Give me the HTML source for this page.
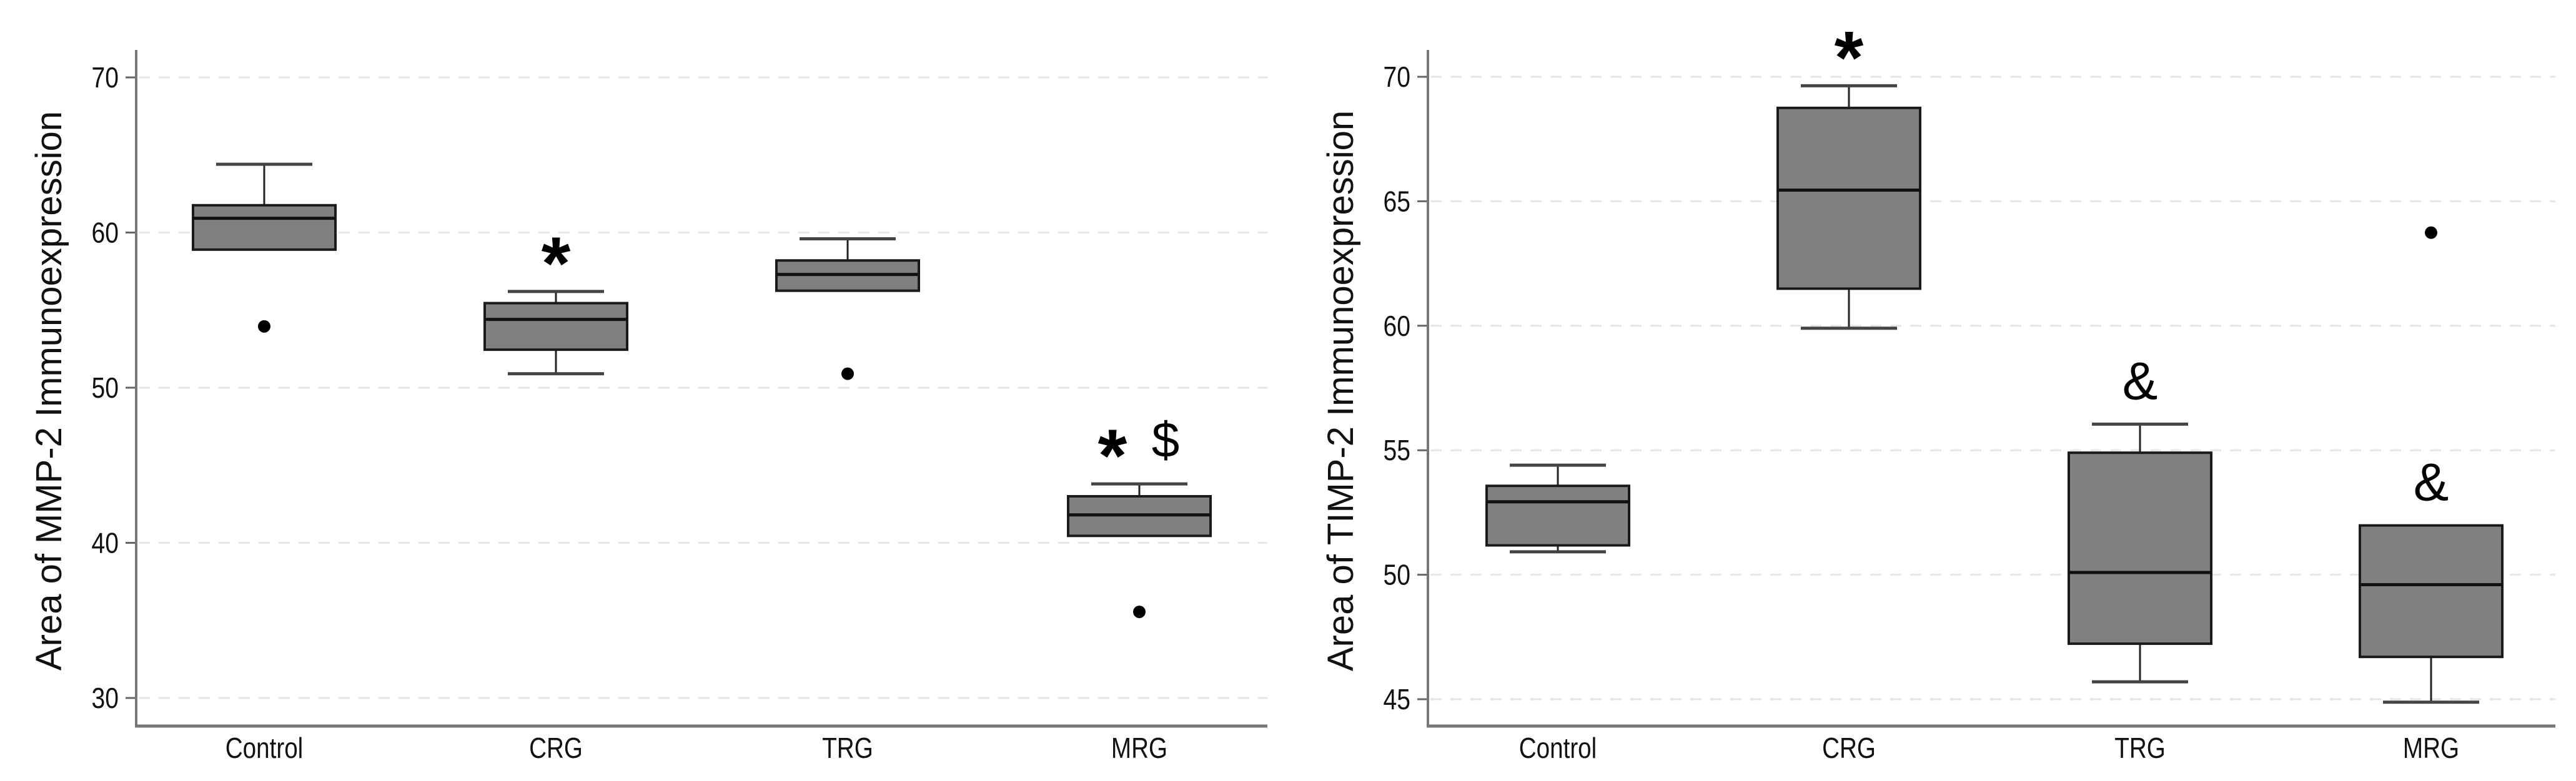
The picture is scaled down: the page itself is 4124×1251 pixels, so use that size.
<!DOCTYPE html>
<html><head><meta charset="utf-8"><style>
html,body{margin:0;padding:0;background:#fff}
svg{display:block}
text{font-family:"Liberation Sans",sans-serif}
</style></head><body>
<svg id="chart" width="4124" height="1251" viewBox="0 0 4124 1251" xmlns="http://www.w3.org/2000/svg"></svg>
<script>
const categories = ["Control","CRG","TRG","MRG"];
// Left panel: MMP-2
const mmpLow = [58.9, 50.9, 56.25, 40.45];
const mmpQ1 = [58.9, 52.45, 56.25, 40.45];
const mmpMed = [60.92, 54.4, 57.3, 41.8];
const mmpQ3 = [61.76, 55.45, 58.2, 43.0];
const mmpHigh = [64.4, 56.2, 59.6, 43.8];
const mmpOutliers = [53.95, null, 50.9, 35.55];
const mmpTicks = [30, 40, 50, 60, 70];
const mmpMarks = ["", "*", "", "* $"];
// Right panel: TIMP-2
const timpLow = [50.92, 59.9, 45.7, 44.88];
const timpQ1 = [51.18, 61.49, 47.23, 46.7];
const timpMed = [52.93, 65.45, 50.09, 49.6];
const timpQ3 = [53.57, 68.75, 54.9, 51.98];
const timpHigh = [54.4, 69.64, 56.05, 51.98];
const timpOutliers = [null, null, null, 63.74];
const timpTicks = [45, 50, 55, 60, 65, 70];
const timpMarks = ["", "*", "&", "&"];

const NS = "http://www.w3.org/2000/svg";
const svg = document.getElementById("chart");
function mk(tag, attrs, parent){
  const e = document.createElementNS(NS, tag);
  for (const k in attrs) e.setAttribute(k, attrs[k]);
  (parent||svg).appendChild(e);
  return e;
}

function panel(cfg){
  const g = mk("g", {});
  
  
  const y = v => cfg.y0 + (cfg.vTop - v) * cfg.ppu;
  const x = i => cfg.cx0 + i * cfg.step;
  cfg.ticks.forEach(t => {
    const gl = mk("line", {x1: cfg.ax+4, x2: cfg.axEnd, y1: y(t), y2: y(t), stroke: "#e6e6e6", "stroke-width": 3, "stroke-dasharray": "18,14"}, g);
    
    
    const tk = mk("line", {x1: cfg.ax-17, x2: cfg.ax, y1: y(t), y2: y(t), stroke: "#666", "stroke-width": 3}, g);
    
    
    const tl = mk("text", {x: cfg.ax-28, y: y(t)+16, "text-anchor": "end", "font-size": 46, fill: "#111", transform: `translate(${cfg.ax-28},0) scale(0.85,1) translate(${-(cfg.ax-28)},0)`}, g);
    tl.textContent = t;
    
    
  });
  const ya = mk("line", {x1: cfg.ax, x2: cfg.ax, y1: 80, y2: 1165, stroke: "#777", "stroke-width": 4}, g);
  
  
  const xa = mk("line", {x1: cfg.ax-2, x2: cfg.axEnd, y1: 1163, y2: 1163, stroke: "#777", "stroke-width": 5}, g);
  
  
  const yt = mk("text", {x: 0, y: 0, "text-anchor": "middle", "font-size": 58, fill: "#111", transform: `translate(${cfg.ax-120},${cfg.titleY}) rotate(-90)`}, g);
  yt.textContent = cfg.title;
  
  
  categories.forEach((c, i) => {
    const cx = x(i);
    const hw = 114, cw = 77;
    const b = mk("g", {}, g);
    
    
    if (cfg.high[i] > cfg.q3[i]) {
      mk("line", {x1: cx, x2: cx, y1: y(cfg.high[i]), y2: y(cfg.q3[i]), stroke: "#222", "stroke-width": 3}, b);
      mk("line", {x1: cx-cw, x2: cx+cw, y1: y(cfg.high[i]), y2: y(cfg.high[i]), stroke: "#444", "stroke-width": 5}, b);
    }
    if (cfg.low[i] < cfg.q1[i]) {
      mk("line", {x1: cx, x2: cx, y1: y(cfg.q1[i]), y2: y(cfg.low[i]), stroke: "#222", "stroke-width": 3}, b);
      mk("line", {x1: cx-cw, x2: cx+cw, y1: y(cfg.low[i]), y2: y(cfg.low[i]), stroke: "#444", "stroke-width": 5}, b);
    }
    mk("rect", {x: cx-hw, y: y(cfg.q3[i]), width: 2*hw, height: y(cfg.q1[i]) - y(cfg.q3[i]), fill: "#808080", stroke: "#1a1a1a", "stroke-width": 4}, b);
    mk("line", {x1: cx-hw, x2: cx+hw, y1: y(cfg.med[i]), y2: y(cfg.med[i]), stroke: "#111", "stroke-width": 5}, b);
    if (cfg.out[i] !== null) {
      const o = mk("circle", {cx: cx, cy: y(cfg.out[i]), r: 10, fill: "#000"}, g);
      
      
    }
    const lb = mk("text", {x: cx, y: 1214, "text-anchor": "middle", "font-size": 46, fill: "#111", transform: `translate(${cx},0) scale(0.84,1) translate(${-cx},0)`}, g);
    lb.textContent = c;
    
    
    const m = cfg.marks[i];
    if (m) {
      const topY = (cfg.high[i] > cfg.q3[i] ? y(cfg.high[i]) : y(cfg.q3[i]));
      const centerY = topY - 71;
      const parts = m.split(" ");
      parts.forEach((p, k) => {
        const off = parts.length === 2 ? (k === 0 ? -43 : 42) : 0;
        let size, base, weight = "normal";
        if (p === "*") { size = 120; base = centerY + 67; weight = "bold"; }
        else if (p === "$") { size = 80; base = centerY + 28; }
        else { size = 85; base = centerY + 31; }
        const t = mk("text", {x: cx+off, y: base, "text-anchor": "middle", "font-size": size, "font-weight": weight, fill: "#000"}, g);
        t.textContent = p;
        
        
      });
    }
  });
}

panel({name: "mmp2-panel", ax: 218, axEnd: 2029, y0: 124, vTop: 70, ppu: 24.85, cx0: 423, step: 467,
  ticks: mmpTicks, title: "Area of MMP-2 Immunoexpression", titleY: 626,
  low: mmpLow, q1: mmpQ1, med: mmpMed, q3: mmpQ3, high: mmpHigh, out: mmpOutliers, marks: mmpMarks});
panel({name: "timp2-panel", ax: 2286, axEnd: 4091, y0: 123, vTop: 70, ppu: 39.88, cx0: 2494, step: 466,
  ticks: timpTicks, title: "Area of TIMP-2 Immunoexpression", titleY: 626,
  low: timpLow, q1: timpQ1, med: timpMed, q3: timpQ3, high: timpHigh, out: timpOutliers, marks: timpMarks});
</script>
</body></html>
